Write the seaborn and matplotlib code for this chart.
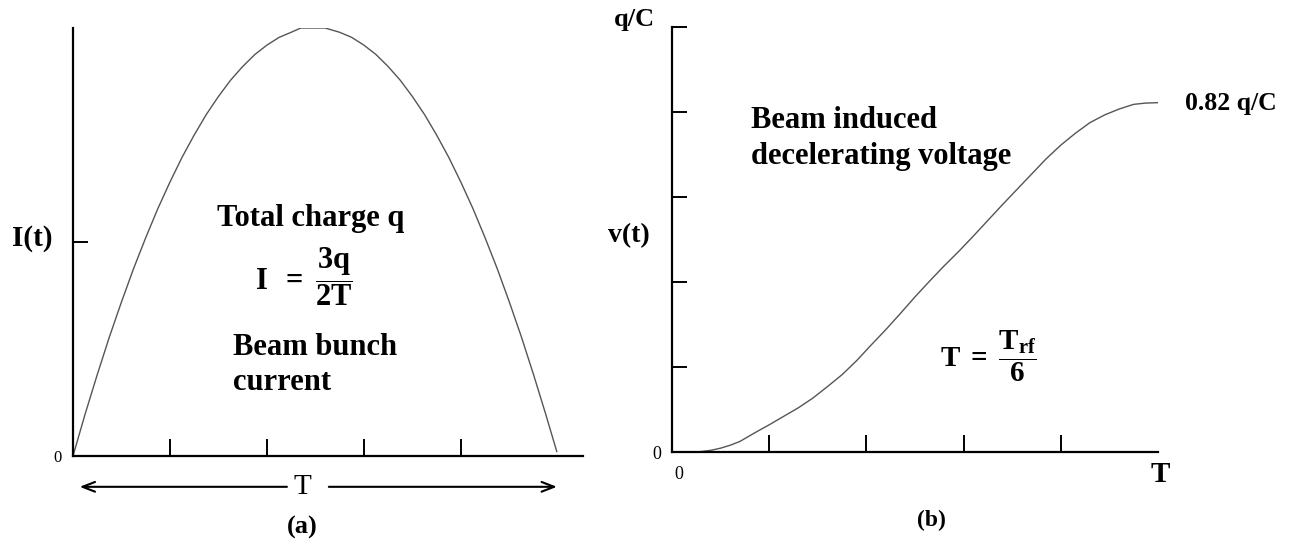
import numpy as np
import matplotlib
matplotlib.use("Agg")
import matplotlib.pyplot as plt
import seaborn as sns

sns.set_style("white")
plt.rcParams['font.family'] = ['Liberation Serif', 'DejaVu Serif']
plt.rcParams['mathtext.fontset'] = 'custom'
plt.rcParams['mathtext.rm'] = 'Liberation Serif'
plt.rcParams['mathtext.bf'] = 'Liberation Serif:bold'
plt.rcParams['mathtext.it'] = 'Liberation Serif:italic'

# (a) beam bunch current, normalised to peak, t in units of T
t_bunch = [0, 0.025, 0.05, 0.075, 0.1, 0.125, 0.15, 0.175, 0.2, 0.225, 0.25,
           0.275, 0.3, 0.325, 0.35, 0.375, 0.4, 0.425, 0.45, 0.47, 0.52, 0.55,
           0.575, 0.6, 0.625, 0.65, 0.675, 0.7, 0.725, 0.75, 0.775, 0.8, 0.825,
           0.85, 0.875, 0.9, 0.925, 0.95, 0.975, 0.998]
i_bunch = [0, 0.098, 0.19, 0.278, 0.36, 0.438, 0.51, 0.578, 0.64, 0.698, 0.75,
           0.798, 0.84, 0.878, 0.91, 0.938, 0.96, 0.978, 0.99, 1.0, 1.0, 0.99,
           0.978, 0.96, 0.938, 0.91, 0.878, 0.84, 0.798, 0.75, 0.698, 0.64, 0.578,
           0.51, 0.438, 0.36, 0.278, 0.19, 0.098, 0.01]

# (b) beam induced voltage in units of q/C
t_volt = [0.053, 0.08, 0.10, 0.12, 0.14, 0.17, 0.20, 0.23, 0.26, 0.29, 0.32,
          0.35, 0.38, 0.41, 0.44, 0.47, 0.50, 0.53, 0.56, 0.59, 0.62, 0.65,
          0.68, 0.71, 0.74, 0.77, 0.80, 0.83, 0.86, 0.89, 0.92, 0.95, 0.975, 1.0]
v_volt = [0.0, 0.004, 0.009, 0.016, 0.025, 0.045, 0.064, 0.084, 0.104, 0.127,
          0.154, 0.182, 0.215, 0.252, 0.288, 0.326, 0.365, 0.402, 0.438, 0.472,
          0.508, 0.545, 0.582, 0.618, 0.654, 0.69, 0.722, 0.75, 0.775, 0.793,
          0.807, 0.818, 0.821, 0.822]

x_ticks_a = [0.2, 0.4, 0.6, 0.8]
y_ticks_a = [0.5]
x_ticks_b = [0.2, 0.4, 0.6, 0.8]
y_ticks_b = [0.2, 0.4, 0.6, 0.8, 1.0]

W, H = 1291, 541
fig = plt.figure(figsize=(W / 100, H / 100), dpi=100)
fig.patch.set_facecolor('white')

ax1 = fig.add_axes([73 / W, (H - 456) / H, (583 - 73) / W, (456 - 28) / H])
ax2 = fig.add_axes([672 / W, (H - 452) / H, 486 / W, 425 / H])

curve_kw = dict(color='#555555', linewidth=1.0)
sns.lineplot(x=t_bunch, y=i_bunch, ax=ax1, **curve_kw)
sns.lineplot(x=t_volt, y=v_volt, ax=ax2, **curve_kw)

ax1.set_xlim(0, 1.052)
ax1.set_ylim(0, 1)
ax2.set_xlim(0, 1)
ax2.set_ylim(0, 1)

for ax in (ax1, ax2):
    ax.set_facecolor('white')
    for s in ('top', 'right'):
        ax.spines[s].set_visible(False)
    for s in ('left', 'bottom'):
        ax.spines[s].set_color('black')
        ax.spines[s].set_linewidth(1.6)
    ax.tick_params(axis='x', direction='in', length=12, width=1.4,
                   color='black', labelbottom=False, bottom=True)
    ax.tick_params(axis='y', direction='in', length=10.5, width=1.4,
                   color='black', labelleft=False, left=True)

ax1.set_xticks(x_ticks_a)
ax1.set_yticks(y_ticks_a)
ax2.set_xticks(x_ticks_b)
ax2.set_yticks(y_ticks_b)

bold = dict(fontweight='bold', color='black')

# panel (a) texts
ax1.text(-0.085, 0.509, 'I(t)', fontsize=21, ha='center', va='center', **bold)
ax1.text(-0.033, -0.005, '0', fontsize=12, ha='center', va='center', color='black')
ax1.text(0.297, 0.537, 'Total charge q', fontsize=22, ha='left', va='baseline', **bold)
ax1.text(0.375, 0.418, r'$\mathbf{I\ \ =\ \dfrac{3q}{2T}}$', fontsize=22,
         ha='left', va='center', color='black')
ax1.text(0.33, 0.236, 'Beam bunch', fontsize=22, ha='left', va='baseline', **bold)
ax1.text(0.33, 0.154, 'current', fontsize=22, ha='left', va='baseline', **bold)

arrow_kw = dict(arrowstyle='->,head_length=0.9,head_width=0.35', lw=1.5, color='black')
ax1.annotate('', xy=(0.008, -0.072), xytext=(0.447, -0.072),
             arrowprops=arrow_kw, annotation_clip=False)
ax1.annotate('', xy=(1.004, -0.072), xytext=(0.522, -0.072),
             arrowprops=arrow_kw, annotation_clip=False)
ax1.text(0.474, -0.072, 'T', fontsize=21, ha='center', va='center', color='black')
ax1.text(0.472, -0.166, '(a)', fontsize=19, ha='center', va='center', **bold)

# panel (b) texts
ax2.text(-0.035, 1.018, 'q/C', fontsize=19, ha='right', va='center', **bold)
ax2.text(-0.088, 0.508, 'v(t)', fontsize=20, ha='center', va='center', **bold)
ax2.text(-0.031, -0.007, '0', fontsize=13, ha='center', va='center', color='black')
ax2.text(0.014, -0.052, '0', fontsize=13, ha='center', va='center', color='black')
ax2.text(0.163, 0.762, 'Beam induced', fontsize=22, ha='left', va='baseline', **bold)
ax2.text(0.163, 0.678, 'decelerating voltage', fontsize=22, ha='left', va='baseline', **bold)
ax2.text(0.551, 0.225, r'$\mathbf{T\ =\ \dfrac{T_{rf}}{6}}$', fontsize=21,
         ha='left', va='center', color='black')
ax2.text(1.056, 0.821, '0.82 q/C', fontsize=18.5, ha='left', va='center', **bold)
ax2.text(1.004, -0.054, 'T', fontsize=21, ha='center', va='center', **bold)
ax2.text(0.533, -0.16, '(b)', fontsize=17, ha='center', va='center', **bold)

fig.savefig('out.png', dpi=100, facecolor='white')
